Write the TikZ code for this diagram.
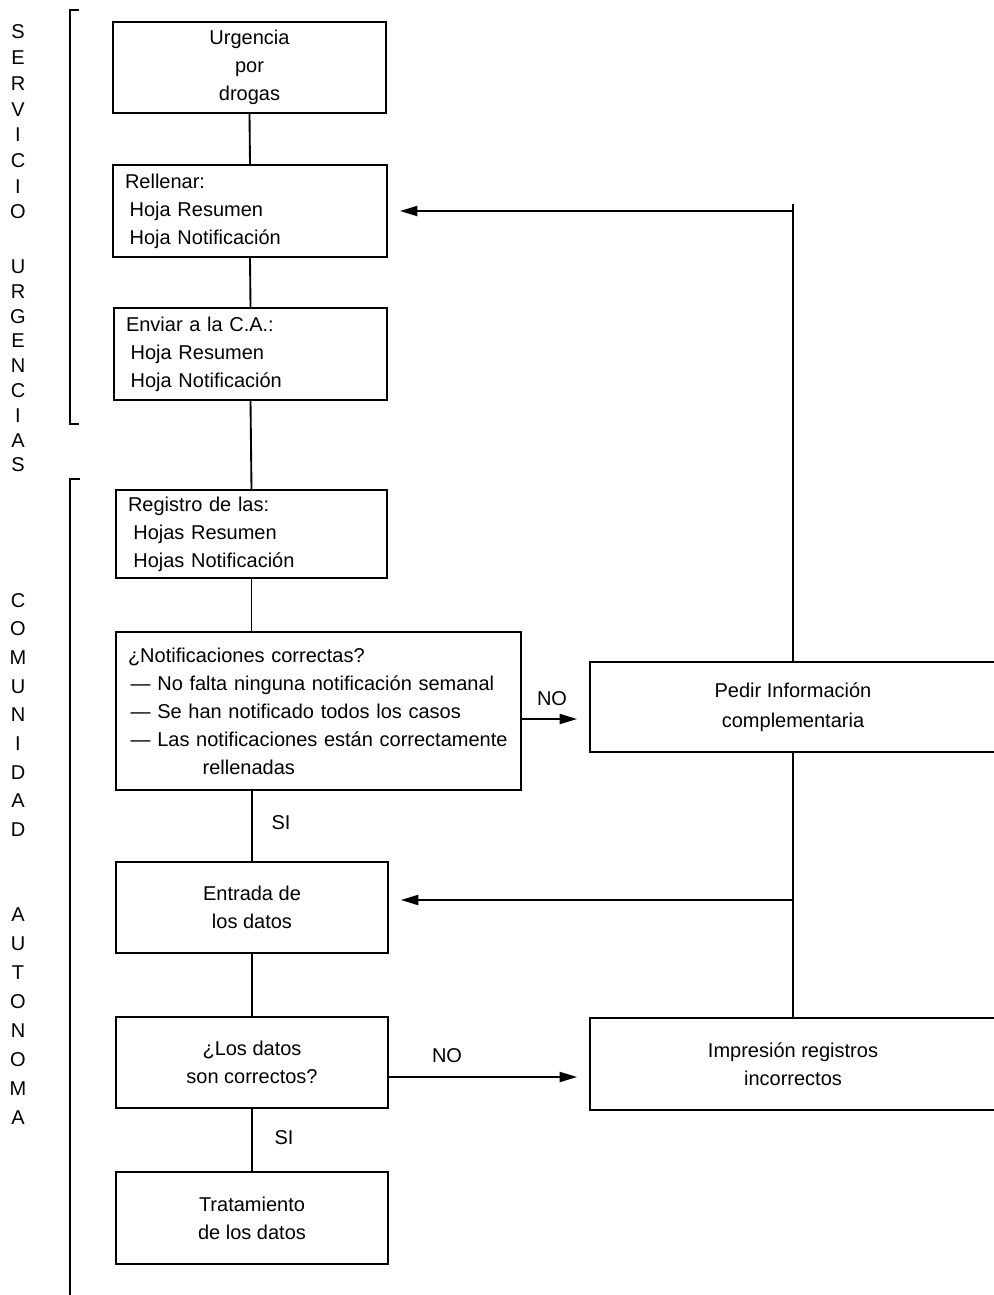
\documentclass[tikz,border=0pt]{standalone}
\usepackage{fontspec}
\setmainfont{Liberation Sans}
\usetikzlibrary{arrows.meta}
\newcommand\fs{\fontsize{15}{21}\selectfont}
\begin{document}
\begin{tikzpicture}[x=0.75pt,y=-0.75pt,
  line width=1.4pt,
  box/.style={draw, line width=1.4pt, inner xsep=9pt, inner ysep=0pt, font=\fs},
  cbox/.style={box, align=center},
  lbox/.style={box, align=left},
  lbl/.style={font=\fs, inner sep=0pt},
  side/.style={font=\fs, inner sep=0pt, align=center},
  arr/.style={-{Triangle[length=13pt,width=7.5pt]}, line width=1.4pt, shorten >=9pt},
  brk/.style={line width=2pt}]
\useasboundingbox (0,0) rectangle (994,1295);
\clip (0,0) rectangle (994,1295);

% side labels
\node[side, font=\fontsize{15}{19.3}\selectfont] (s1) at (18,122) {S\\E\\R\\V\\I\\C\\I\\O};
\node[side, font=\fontsize{15}{18.6}\selectfont] (s2) at (18,366) {U\\R\\G\\E\\N\\C\\I\\A\\S};
\node[side, font=\fontsize{15}{21.5}\selectfont] (s3) at (18,715) {C\\O\\M\\U\\N\\I\\D\\A\\D};
\node[side, font=\fontsize{15}{21.7}\selectfont] (s4) at (18,1016) {A\\U\\T\\O\\N\\O\\M\\A};

% brackets
\coordinate (b1a) at (79,10);
\coordinate (b1b) at (70,10);
\coordinate (b1c) at (70,424);
\coordinate (b1d) at (79,424);
\draw[brk] (b1a) -- (b1b) -- (b1c) -- (b1d);
\coordinate (b2a) at (80,479);
\coordinate (b2b) at (70,479);
\coordinate (b2c) at (70,1300);
\draw[brk] (b2a) -- (b2b) -- (b2c);

% boxes
\node[cbox, minimum width=204.75pt, minimum height=68.25pt] (urg) at (249.5,67.5) {Urgencia\\por\\drogas};
\node[lbox, text width=187.5pt, minimum height=69pt] (rell) at (250,211) {Rellenar:\\\hspace*{3.5pt}Hoja Resumen\\\hspace*{3.5pt}Hoja Notificación};
\node[lbox, text width=186.75pt, minimum height=69pt] (env) at (250.5,354) {Enviar a la C.A.:\\\hspace*{3.5pt}Hoja Resumen\\\hspace*{3.5pt}Hoja Notificación};
\node[lbox, text width=185.25pt, minimum height=66pt] (reg) at (251.5,534) {Registro de las:\\\hspace*{4pt}Hojas Resumen\\\hspace*{4pt}Hojas Notificación};
\node[lbox, text width=285.75pt, minimum height=118.5pt] (notif) at (318.5,711) {¿Notificaciones correctas?\\\hspace*{2pt}— No falta ninguna notificación semanal\\\hspace*{2pt}— Se han notificado todos los casos\\\hspace*{2pt}— Las notificaciones están correctamente\\\hspace*{56pt}rellenadas};
\node[cbox, minimum width=204pt, minimum height=68.25pt] (ent) at (252,907.5) {Entrada de\\los datos};
\node[cbox, minimum width=204pt, minimum height=68.25pt] (dat) at (252,1062.5) {¿Los datos\\son correctos?};
\node[cbox, minimum width=204pt, minimum height=69pt] (trat) at (252,1218) {Tratamiento\\de los datos};
\node[cbox, minimum width=304.5pt, minimum height=67.5pt, font=\fontsize{15}{22.5}\selectfont] (ped) at (793,707) {Pedir Información\\complementaria};
\node[cbox, minimum width=304.5pt, minimum height=69pt] (imp) at (793,1064) {Impresión registros\\incorrectos};

% vertical connectors
\draw (urg.south) -- (rell.north);
\draw (rell.south) -- (env.north);
\draw (env.south) -- (reg.north);
\draw (reg.south) -- (reg.south |- notif.north);
\draw (notif.south -| ent.north) -- (ent.north);
\draw (ent.south) -- (dat.north);
\draw (dat.south) -- (trat.north);

% labels SI / NO
\node[lbl] (si1) at (281,823) {SI};
\node[lbl] (si2) at (284,1138) {SI};
\node[lbl] (no1) at (552,699) {NO};
\node[lbl] (no2) at (447,1056) {NO};

% NO arrows
\coordinate (n1) at (0,719);
\draw[arr] (notif.east |- n1) -- (ped.west |- n1);
\coordinate (n2) at (0,1077);
\draw[arr] (dat.east |- n2) -- (imp.west |- n2);

% feedback to Rellenar
\draw[arr] (ped.north) |- (rell.east);
\coordinate (t1) at (793,204);
\draw (ped.north |- rell.east) -- (t1);

% feedback to Entrada
\draw (imp.north) -- (ped.south);
\coordinate (j2) at (793,900);
\draw[arr] (j2) -- (ent.east |- j2);
\end{tikzpicture}
\end{document}
